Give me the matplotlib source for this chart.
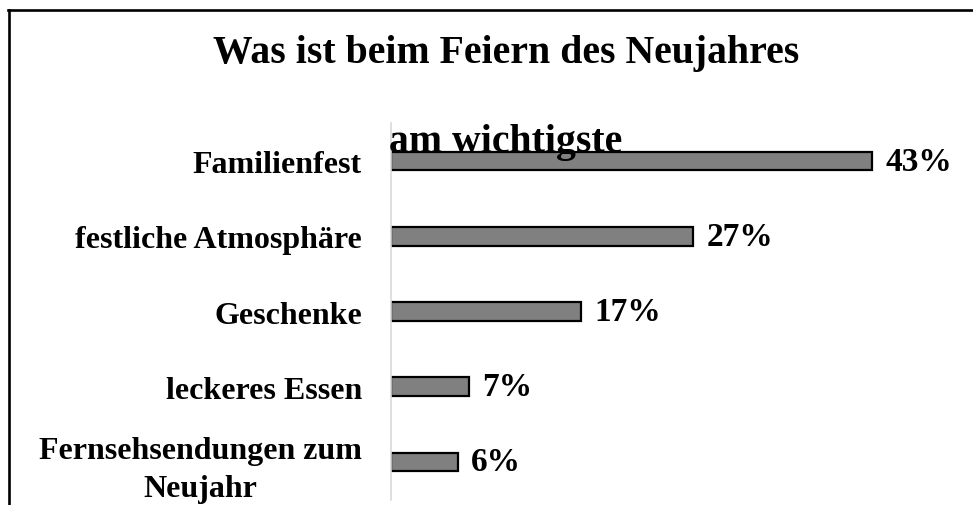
import matplotlib
matplotlib.use("Agg")
import matplotlib.pyplot as plt
from matplotlib.lines import Line2D

categories = ["Familienfest", "festliche Atmosphäre", "Geschenke",
              "leckeres Essen", "Fernsehsendungen zum\nNeujahr"]
values = [43, 27, 17, 7, 6]
value_labels = ["43%", "27%", "17%", "7%", "6%"]
title_line1 = "Was ist beim Feiern des Neujahres"
title_line2 = "am wichtigste"

W, H = 973, 506
plt.rcParams['font.family'] = ['Liberation Serif', 'DejaVu Serif']
plt.rcParams['font.weight'] = 'bold'

fig = plt.figure(figsize=(W / 100, H / 100), dpi=100)
fig.patch.set_facecolor('white')

ax = fig.add_axes([391 / W, 5.4 / H, 559.4 / W, 376.2 / H])
y = list(range(len(categories)))
bars = ax.barh(y, values, height=0.25, color='#808080', edgecolor='black', linewidth=1.6)
ax.set_xlim(0, 50)
ax.set_ylim(len(categories) - 0.5, -0.5)
ax.set_yticks(y)
ax.set_yticklabels(categories, fontsize=23, fontweight='bold', multialignment='center',
                   linespacing=1.38)
ax.tick_params(axis='y', length=0, pad=21)
ax.set_xticks([])
for s in ['top', 'right', 'bottom']:
    ax.spines[s].set_visible(False)
ax.spines['left'].set_color('#d9d9d9')
ax.spines['left'].set_linewidth(1.2)
ax.bar_label(bars, labels=value_labels, padding=9.5, fontsize=24, fontweight='bold')

fig.text(506 / W, 1 - 63 / H, title_line1, ha='center', va='baseline',
         fontsize=28.6, fontweight='bold')
fig.text(506 / W, 1 - 152 / H, title_line2, ha='center', va='baseline',
         fontsize=28.6, fontweight='bold', zorder=5)

# outer chart frame (top and left edges visible)
fig.add_artist(Line2D([8 / W, 1.0], [1 - 10.5 / H, 1 - 10.5 / H], color='black', lw=1.9,
                      transform=fig.transFigure))
fig.add_artist(Line2D([8.7 / W, 8.7 / W], [1 - 10.5 / H, 0.0], color='black', lw=1.9,
                      transform=fig.transFigure))

fig.savefig("out.png", dpi=100)
